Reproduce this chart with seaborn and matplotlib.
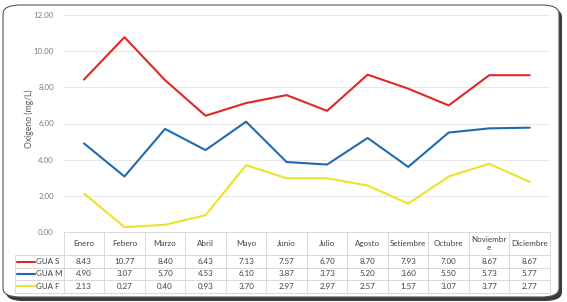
import numpy as np
import pandas as pd
import matplotlib
matplotlib.use("Agg")
import matplotlib.pyplot as plt
import matplotlib.transforms as mtransforms
from matplotlib.patches import FancyBboxPatch
import seaborn as sns

# -- data
meses = ["Enero", "Febero", "Marzo", "Abril", "Mayo", "Junio", "Julio",
         "Agosto", "Setiembre", "Octubre", "Noviembr\ne", "Diciembre"]
gua_s = [8.43, 10.77, 8.40, 6.43, 7.13, 7.57, 6.70, 8.70, 7.93, 7.00, 8.67, 8.67]
gua_m = [4.90, 3.07, 5.70, 4.53, 6.10, 3.87, 3.73, 5.20, 3.60, 5.50, 5.73, 5.77]
gua_f = [2.13, 0.27, 0.40, 0.93, 3.70, 2.97, 2.97, 2.57, 1.57, 3.07, 3.77, 2.77]
series = ["GUA S", "GUA M", "GUA F"]
colores = ["#E32526", "#1F6BB0", "#EDE32A"]
y_ticks = [0, 2, 4, 6, 8, 10, 12]

df = pd.DataFrame({"mes": list(range(len(meses))) * 3,
                   "valor": gua_s + gua_m + gua_f,
                   "serie": np.repeat(series, len(meses))})

sns.set_theme(style="white")
plt.rcParams["font.family"] = ["Lato", "DejaVu Sans"]

fig = plt.figure(figsize=(5.67, 3.02), dpi=100)
W, H = 567, 302

# frame with shadow
shadow = FancyBboxPatch((6 / W, 1 / H), 556 / W, 293 / H,
                        boxstyle="round,pad=0,rounding_size=0.03",
                        transform=fig.transFigure, facecolor="#3a3a3a",
                        edgecolor="none", zorder=0)
frame = FancyBboxPatch((3 / W, 5 / H), 556 / W, 292 / H,
                       boxstyle="round,pad=0,rounding_size=0.03",
                       transform=fig.transFigure, facecolor="white",
                       edgecolor="#555555", linewidth=0.8, zorder=0.5)
fig.patches.extend([shadow, frame])

ax = fig.add_axes([63.7 / W, 1 - 232 / H, (550 - 63.7) / W, 217 / H])
ax.set_zorder(2)
ax.patch.set_alpha(0)

sns.lineplot(data=df, x="mes", y="valor", hue="serie", palette=colores,
             hue_order=series, linewidth=1.5, legend=False, ax=ax)

ax.set_xlim(-0.5, len(meses) - 0.5)
ax.set_ylim(0, 12)
ax.set_yticks(y_ticks)
ax.set_yticklabels([f"{v:.2f}" for v in y_ticks], fontsize=5.8, color="#7f7f7f")
ax.set_xticks([])
ax.set_xlabel("")
ax.set_ylabel("Oxígeno (mg/L)", fontsize=6.2, color="#595959")
ax.yaxis.set_label_coords(-0.062, 0.52)
ax.tick_params(axis="y", length=0, pad=7)
ax.yaxis.grid(True, color="#e4e4e4", linewidth=0.6)
for sp in ax.spines.values():
    sp.set_visible(False)

# -- data table under the plot
trans = mtransforms.blended_transform_factory(ax.transData, ax.transAxes)
row_y = [0, -0.106, -0.166, -0.221, -0.281]
lc = "#d9d9d9"
left_x = -1.71
ax.plot([-0.5, 11.5], [0, 0], transform=trans, color=lc, lw=0.7, clip_on=False)
for y in row_y[1:]:
    ax.plot([left_x, 11.5], [y, y], transform=trans, color=lc, lw=0.7, clip_on=False)
for i in range(len(meses) + 1):
    ax.plot([i - 0.5, i - 0.5], [0, row_y[-1]], transform=trans, color=lc,
            lw=0.7, clip_on=False)
ax.plot([left_x, left_x], [row_y[1], row_y[-1]], transform=trans, color=lc,
        lw=0.7, clip_on=False)

for i, m in enumerate(meses):
    ax.text(i, (row_y[0] + row_y[1]) / 2, m, transform=trans, ha="center",
            va="center", fontsize=5.8, color="#404040", linespacing=1.3)

for r, (nombre, vals, col) in enumerate(zip(series, [gua_s, gua_m, gua_f], colores)):
    yc = (row_y[r + 1] + row_y[r + 2]) / 2
    for i, v in enumerate(vals):
        ax.text(i, yc, f"{v:.2f}", transform=trans, ha="center", va="center",
                fontsize=5.8, color="#404040")
    ax.plot([left_x + 0.05, left_x + 0.5], [yc, yc], transform=trans, color=col,
            lw=1.5, clip_on=False)
    ax.text(left_x + 0.52, yc, nombre, transform=trans, ha="left", va="center",
            fontsize=5.8, color="#404040")

plt.savefig("out.png", dpi=100)
